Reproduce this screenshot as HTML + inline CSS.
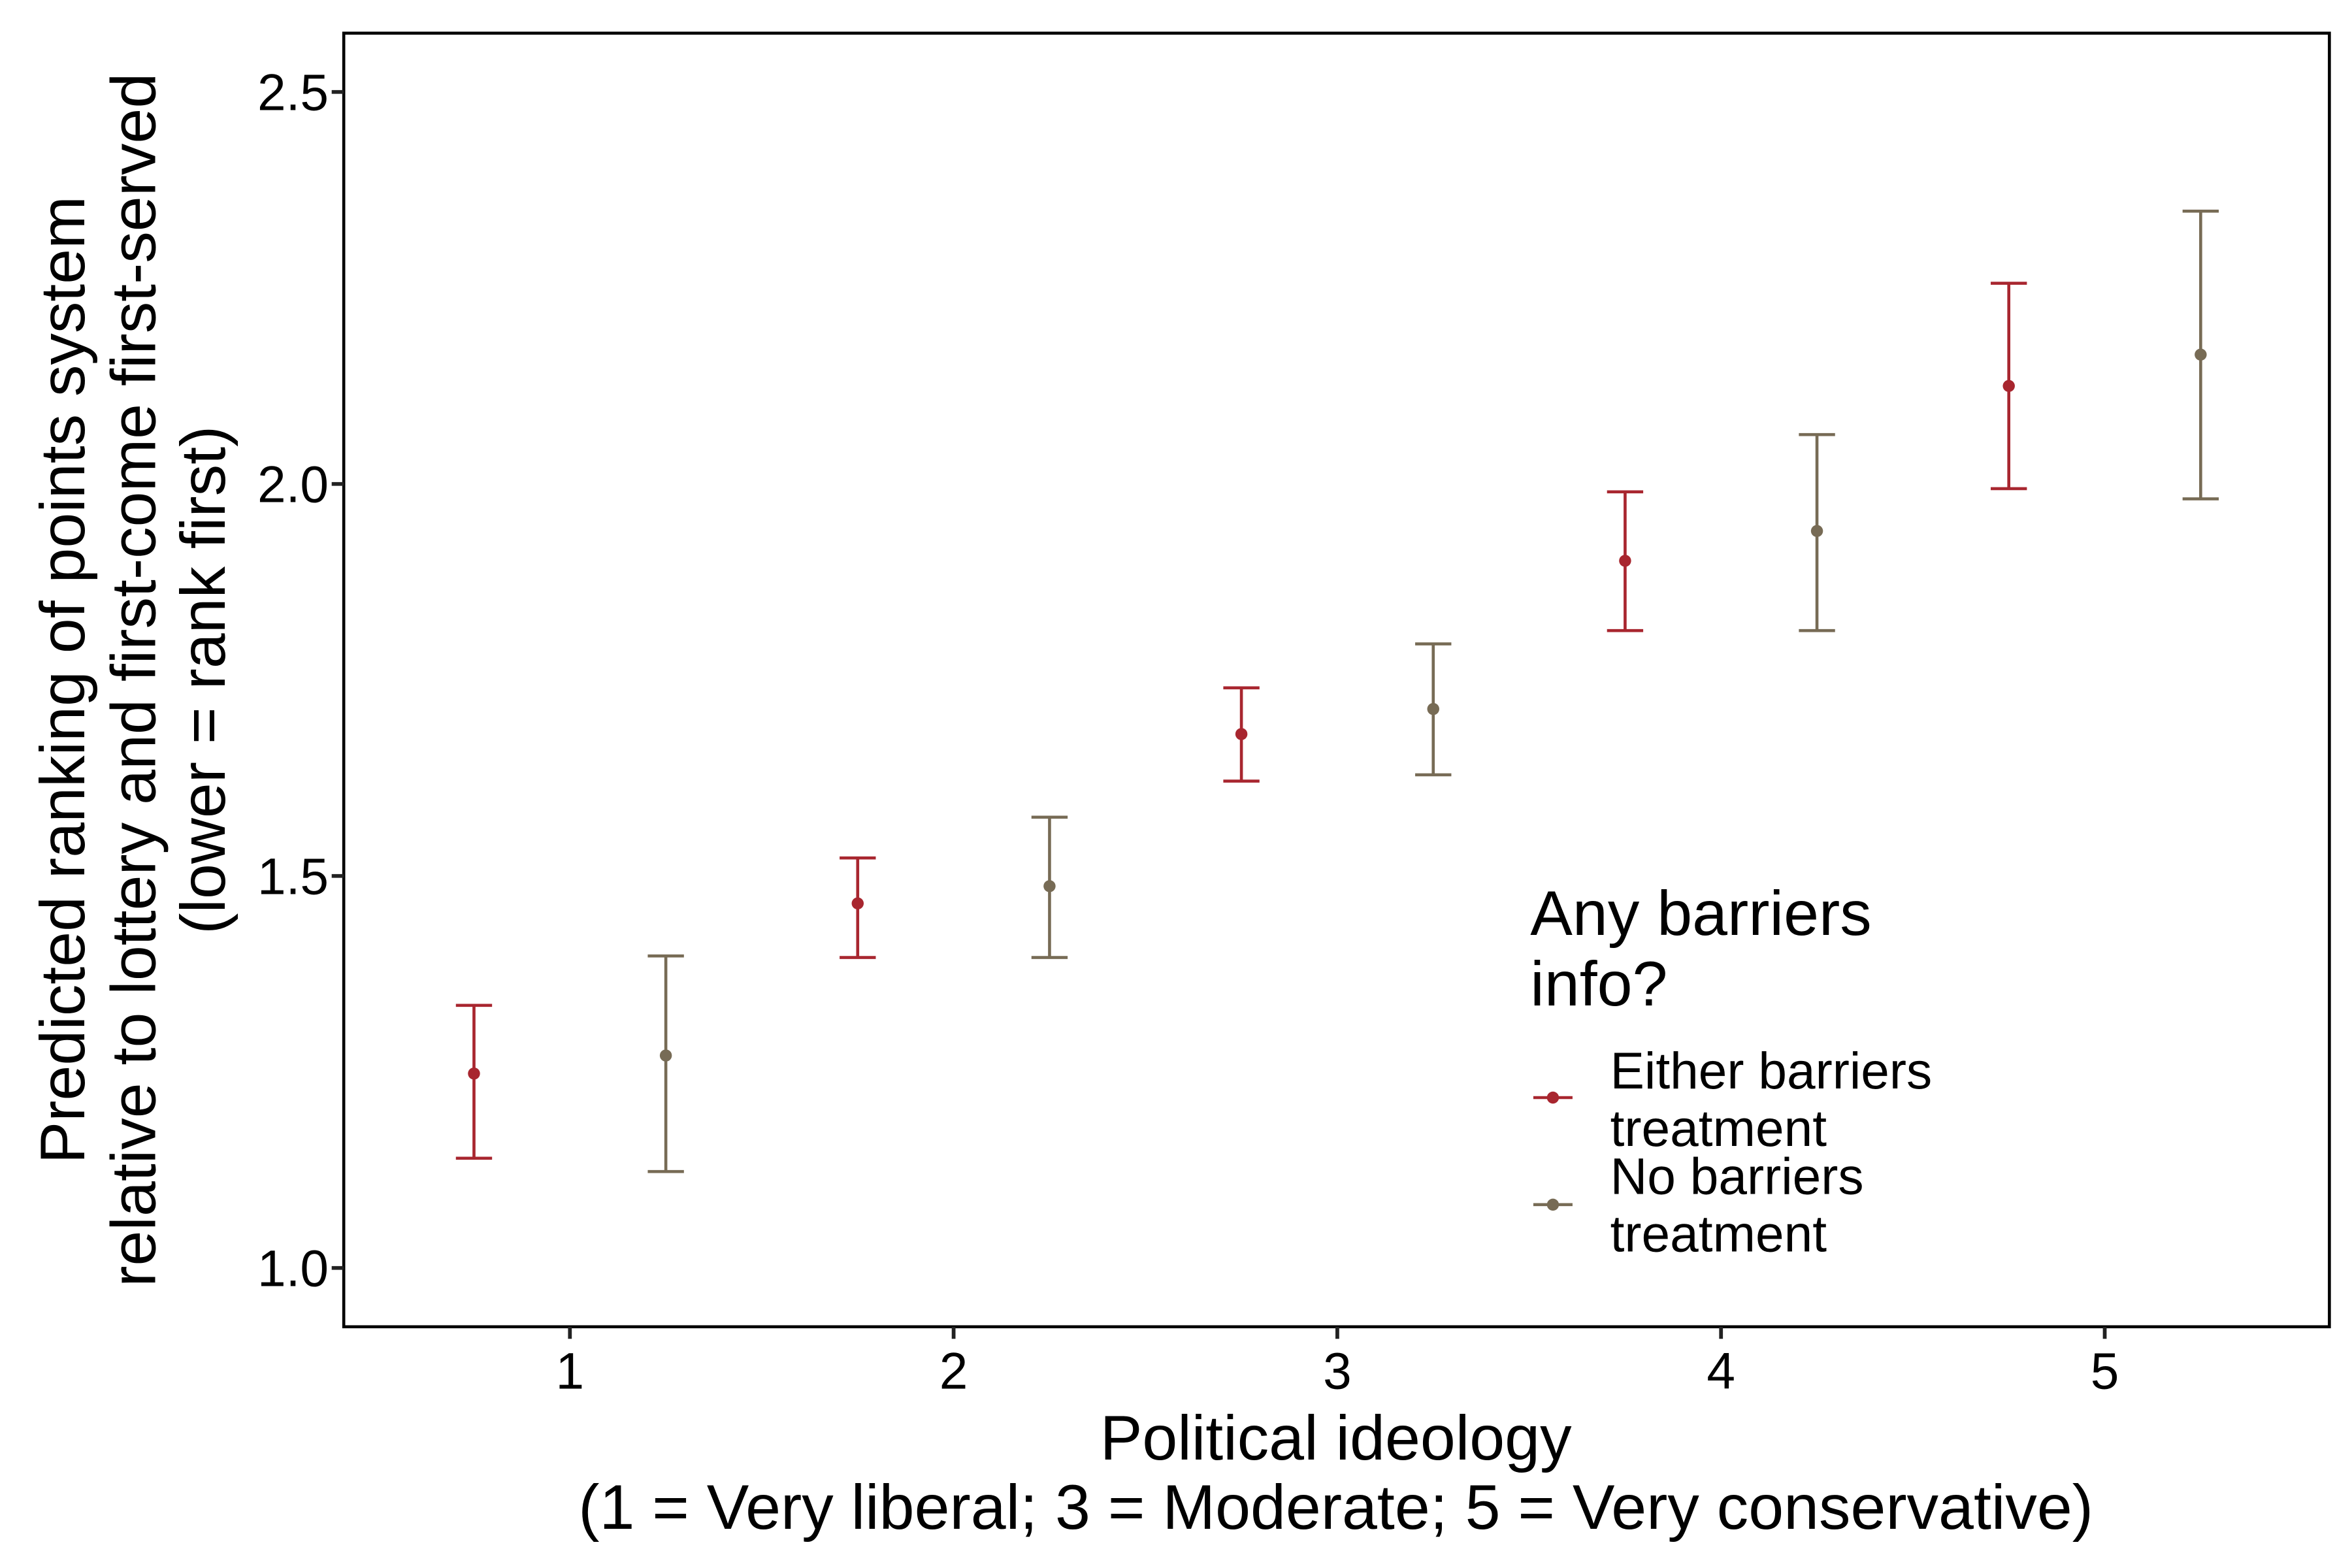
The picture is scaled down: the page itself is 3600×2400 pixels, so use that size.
<!DOCTYPE html>
<html><head><meta charset="utf-8"><style>
html,body{margin:0;padding:0;background:#fff}
svg{display:block}
text{font-family:"Liberation Sans",Arial,sans-serif;fill:#000}
</style></head><body>
<svg id="chart" width="3600" height="2400" viewBox="0 0 1560 1040" xmlns="http://www.w3.org/2000/svg">
<rect x="0" y="0" width="1560" height="1040" fill="#fff"/>
<g id="marks"></g>
<rect x="228" y="22" width="1317" height="858" fill="none" stroke="#000" stroke-width="2"/>
<g id="axes"></g>
<g transform="translate(0,451) rotate(-90)">
<text x="0" y="56" font-size="42" text-anchor="middle">Predicted ranking of points system</text>
<text x="0" y="103" font-size="42" text-anchor="middle">relative to lottery and first-come first-served</text>
<text x="0" y="149" font-size="42" text-anchor="middle">(lower = rank first)</text>
</g>
<text x="886" y="968" font-size="42" text-anchor="middle">Political ideology</text>
<text x="886" y="1014" font-size="42" text-anchor="middle">(1 = Very liberal; 3 = Moderate; 5 = Very conservative)</text>
<g>
<text x="1015" y="620" font-size="42">Any barriers</text>
<text x="1015" y="667" font-size="42">info?</text>
<g>
<line x1="1017" y1="728" x2="1043" y2="728" stroke="#A8262F" stroke-width="2"/>
<circle cx="1030" cy="728" r="4" fill="#A8262F"/>
<text x="1068" y="722" font-size="34">Either barriers</text>
<text x="1068" y="760" font-size="34">treatment</text>
</g>
<g>
<line x1="1017" y1="799" x2="1043" y2="799" stroke="#776B55" stroke-width="2"/>
<circle cx="1030" cy="799" r="4" fill="#776B55"/>
<text x="1068" y="792" font-size="34">No barriers</text>
<text x="1068" y="830" font-size="34">treatment</text>
</g>
</g>
</svg>
<script>
const xPositions = [0.75, 1.25, 1.75, 2.25, 2.75, 3.25, 3.75, 4.25, 4.75, 5.25];
const groups = ["either","no","either","no","either","no","either","no","either","no"];
const estimates = [1.248, 1.271, 1.465, 1.487, 1.681, 1.713, 1.902, 1.940, 2.125, 2.165];
const upper = [1.335, 1.398, 1.523, 1.575, 1.740, 1.796, 1.990, 2.063, 2.256, 2.348];
const lower = [1.140, 1.123, 1.396, 1.396, 1.621, 1.629, 1.813, 1.813, 1.994, 1.981];
const xTicks = [1, 2, 3, 4, 5];
const xTickLabels = ["1","2","3","4","5"];
const yTicks = [1.0, 1.5, 2.0, 2.5];
const yTickLabels = ["1.0","1.5","2.0","2.5"];

const colors = {either:"#A8262F", no:"#776B55"};
const NS = "http://www.w3.org/2000/svg";
function xs(v){ return 378 + (v - 1) * 254.5; }
function ys(v){ return 841 - (v - 1) * 520; }
function mk(tag, attrs, parent){ const e=document.createElementNS(NS,tag); for(const k in attrs) e.setAttribute(k,attrs[k]); parent.appendChild(e); return e; }

const marks = document.getElementById('marks');
for (let i=0;i<xPositions.length;i++){
  const g = mk('g',{},marks);
  
  
  const c = colors[groups[i]];
  const x = xs(xPositions[i]);
  mk('line',{x1:x,x2:x,y1:ys(upper[i]),y2:ys(lower[i]),stroke:c,'stroke-width':2},g);
  mk('line',{x1:x-12,x2:x+12,y1:ys(upper[i]),y2:ys(upper[i]),stroke:c,'stroke-width':2},g);
  mk('line',{x1:x-12,x2:x+12,y1:ys(lower[i]),y2:ys(lower[i]),stroke:c,'stroke-width':2},g);
  const p = mk('circle',{cx:x,cy:ys(estimates[i]),r:4,fill:c},g);
  
  
}
const axes = document.getElementById('axes');
for (let i=0;i<xTicks.length;i++){
  const x = xs(xTicks[i]);
  const t = mk('line',{x1:x,x2:x,y1:880,y2:888,stroke:'#222','stroke-width':2.5},axes);
  
  
  const l = mk('text',{x:x,y:921,'font-size':34,'text-anchor':'middle'},axes);
  l.textContent = xTickLabels[i];
  
  
}
for (let i=0;i<yTicks.length;i++){
  const y = ys(yTicks[i]);
  const t = mk('line',{x1:220,x2:228,y1:y,y2:y,stroke:'#222','stroke-width':2.5},axes);
  
  
  const l = mk('text',{x:218,y:y+12,'font-size':34,'text-anchor':'end'},axes);
  l.textContent = yTickLabels[i];
  
  
}
</script>
</body></html>
